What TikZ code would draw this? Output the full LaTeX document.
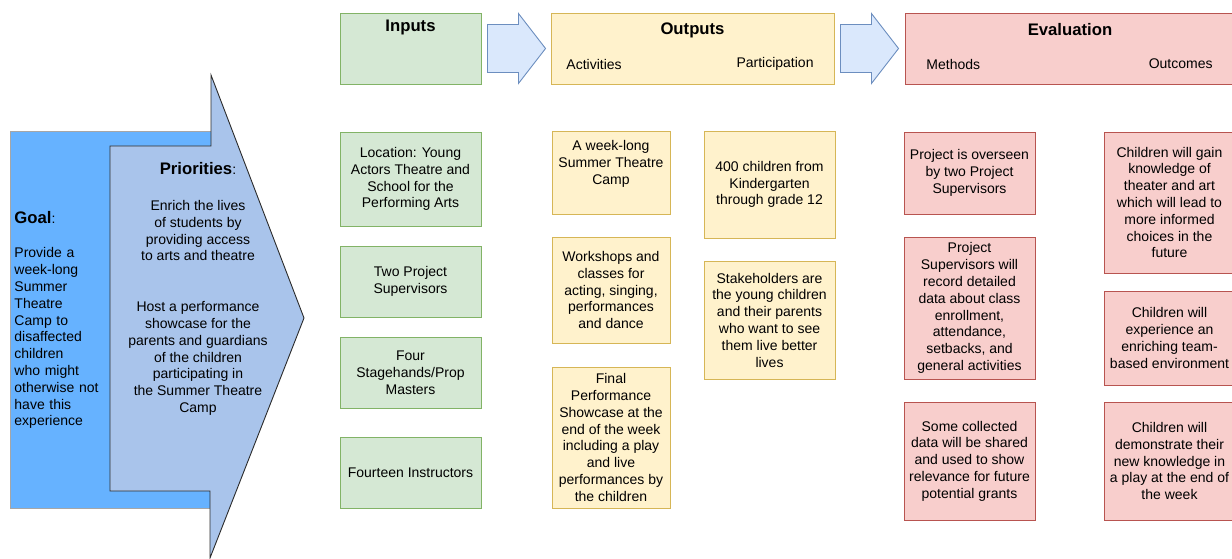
\documentclass[tikz,border=0pt]{standalone}
\usepackage{fontspec}
\setmainfont{Liberation Sans}
\usepackage{xcolor}
\definecolor{InFill}{HTML}{D5E8D4}
\definecolor{InLine}{HTML}{82B366}
\definecolor{OutFill}{HTML}{FFF2CC}
\definecolor{OutLine}{HTML}{D6B656}
\definecolor{EvalFill}{HTML}{F8CECC}
\definecolor{EvalLine}{HTML}{B85450}
\definecolor{StepFill}{HTML}{DAE8FC}
\definecolor{StepLine}{HTML}{6C8EBF}
\definecolor{GoalFill}{HTML}{66B2FF}
\definecolor{GoalLine}{HTML}{A6A6A6}
\definecolor{PrioFill}{HTML}{A9C4EB}
\definecolor{PrioLine}{HTML}{2B2B2B}
\usetikzlibrary{calc}
\newcommand{\bodyfont}{\fontsize{14}{16.8}\selectfont}
\newcommand{\headfont}{\fontsize{16.7}{20}\selectfont\bfseries}

\begin{document}
\begin{tikzpicture}[
        x=1pt, y=-1pt,
        font=\bodyfont,
        line width=0.9pt,
        % Styles
        card/.style={rectangle, align=center, inner sep=2pt},
        inputbox/.style={card, draw=InLine, fill=InFill, minimum width=141pt},
        actbox/.style={card, draw=OutLine, fill=OutFill, minimum width=118pt},
        partbox/.style={card, draw=OutLine, fill=OutFill, minimum width=131pt},
        evalbox/.style={card, draw=EvalLine, fill=EvalFill, minimum width=131pt},
        headtitle/.style={font=\headfont, inner sep=0pt},
        sublabel/.style={inner sep=0pt},
        steparrow/.style={draw=StepLine, fill=StepFill}
    ]
    \useasboundingbox (0,0) rectangle (1232,559);

    % 1. GOAL AND PRIORITIES
    \node[draw=GoalLine, fill=GoalFill, anchor=north west, minimum width=202pt, minimum height=377pt,
          text width=194pt, inner xsep=4pt, align=left] (goal) at (10,131)
          {{\headfont Goal}:\\[18pt]Provide a\\week-long\\Summer\\Theatre\\Camp to\\disaffected\\children\\who might\\otherwise not\\have this\\experience};
    \draw[draw=PrioLine, fill=PrioFill] (110,146) -- (211,146) -- (211,75) -- (304,318)
          -- (210,558) -- (210,491) -- (110,491) -- cycle;
    \node[align=center, inner sep=0pt] (prio) at (198,289)
          {{\headfont Priorities}:\\[19pt]Enrich the lives\\of students by\\providing access\\to arts and theatre\\[34pt]Host a performance\\showcase for the\\parents and guardians\\of the children\\participating in\\the Summer Theatre\\Camp};

    % 2. HEADER ROW
    \node[inputbox, minimum height=71pt] (inputs) at (410.5,48.5) {};
    \node[headtitle] (inputs-t) at (410.5,27) {Inputs};
    \node[actbox, minimum width=283pt, minimum height=71pt] (outputs) at (692.5,48.5) {};
    \node[headtitle] (outputs-t) at (692.5,30) {Outputs};
    \node[sublabel, anchor=west] (act-t) at (566,64) {Activities};
    \node[sublabel, anchor=east] (part-t) at (814,64) {Participation};
    \node[evalbox, minimum width=335pt, minimum height=71pt] (evaluation) at (1072.5,48.5) {};
    \node[headtitle] (evaluation-t) at (1070,30) {Evaluation};
    \node[sublabel, anchor=west] (meth-t) at (926,64) {Methods};
    \node[sublabel, anchor=east] (outc-t) at (1213,64) {Outcomes};

    \draw[steparrow] ($(inputs.east)+(6,-24)$) -- ++(31,0) -- ++(0,-11) -- ($(outputs.west)+(-5,0)$)
          -- ($(inputs.east)+(37,35)$) -- ++(0,-11) -- ++(-31,0) -- cycle;
    \draw[steparrow] ($(outputs.east)+(6,-24)$) -- ++(31,0) -- ++(0,-11) -- ($(evaluation.west)+(-6,0)$)
          -- ($(outputs.east)+(37,35)$) -- ++(0,-11) -- ++(-31,0) -- cycle;

    % 3. INPUTS
    \node[inputbox, minimum height=94pt] (loc) at (410.5,179) {Location: Young\\Actors Theatre and\\School for the\\Performing Arts};
    \node[inputbox, minimum height=71pt] (sup) at (410.5,281.5) {Two Project\\Supervisors};
    \node[inputbox, minimum height=71pt] (crew) at (410.5,372.5) {Four\\Stagehands/Prop\\Masters};
    \node[inputbox, minimum height=71pt] (instr) at (410.5,472.5) {Fourteen Instructors};

    % 4. OUTPUTS
    \node[actbox, minimum height=83pt] (camp) at (611,172.5) {A week-long\\Summer Theatre\\Camp\\[3pt]};
    \node[actbox, minimum height=106pt] (work) at (611,290) {Workshops and\\classes for\\acting, singing,\\performances\\and dance};
    \node[actbox, minimum height=141pt] (show) at (611,437.5) {Final\\Performance\\Showcase at the\\end of the week\\including a play\\and live\\performances by\\the children};
    \node[partbox, minimum height=107pt] (kids) at (769.5,184.5) {400 children from\\Kindergarten\\through grade 12};
    \node[partbox, minimum height=118pt] (stake) at (769.5,320) {Stakeholders are\\the young children\\and their parents\\who want to see\\them live better\\lives};

    % 5. EVALUATION
    \node[evalbox, minimum height=82pt] (oversee) at (969.5,173) {Project is overseen\\by two Project\\Supervisors};
    \node[evalbox, minimum height=142pt] (record) at (969.5,308) {Project\\Supervisors will\\record detailed\\data about class\\enrollment,\\attendance,\\setbacks, and\\general activities};
    \node[evalbox, minimum height=118pt] (share) at (969.5,461) {Some collected\\data will be shared\\and used to show\\relevance for future\\potential grants};
    \node[evalbox, minimum height=141pt] (gain) at (1169.5,202.5) {Children will gain\\knowledge of\\theater and art\\which will lead to\\more informed\\choices in the\\future};
    \node[evalbox, minimum height=94pt] (team) at (1169.5,338) {Children will\\experience an\\enriching team-\\based environment};
    \node[evalbox, minimum height=118pt] (demo) at (1169.5,461) {Children will\\demonstrate their\\new knowledge in\\a play at the end of\\the week};
\end{tikzpicture}
\end{document}
